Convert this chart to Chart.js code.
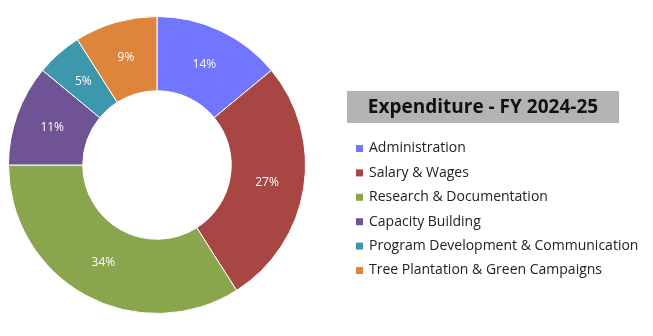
<!DOCTYPE html>
<html>
<head>
<meta charset="utf-8">
<script src="https://cdn.jsdelivr.net/npm/chart.js@4.4.1/dist/chart.umd.min.js"></script>
<style>
  html, body { margin: 0; padding: 0; background: #fff; }
  #wrap { width: 653px; height: 336px; }
</style>
</head>
<body>
<div id="wrap"><canvas id="expChart" width="653" height="336"></canvas></div>
<script>
const categories = [
  "Administration",
  "Salary & Wages",
  "Research & Documentation",
  "Capacity Building",
  "Program Development & Communication",
  "Tree Plantation & Green Campaigns"
];
const shares = [14, 27, 34, 11, 5, 9];
const colours = ["#7275fd", "#a84643", "#89a54e", "#6f5394", "#3d97ad", "#dc853b"];
const chartTitle = "Expenditure - FY 2024-25";

// percentage text inside each slice
const sliceLabels = {
  id: 'sliceLabels',
  afterDatasetsDraw(chart) {
    const ctx = chart.ctx;
    const meta = chart.getDatasetMeta(0);
    ctx.save();
    ctx.font = '12px "Open Sans", sans-serif';
    ctx.fillStyle = '#ffffff';
    ctx.textAlign = 'center';
    ctx.textBaseline = 'middle';
    meta.data.forEach((arc, i) => {
      const p = arc.getProps(['x', 'y', 'startAngle', 'endAngle', 'innerRadius', 'outerRadius']);
      const a = (p.startAngle + p.endAngle) / 2;
      const r = (p.innerRadius + p.outerRadius) / 2;
      ctx.fillText(shares[i] + '%', p.x + Math.cos(a) * r, p.y + Math.sin(a) * r);
    });
    ctx.restore();
  }
};

// title box + legend on the right
const sideLegend = {
  id: 'sideLegend',
  afterDraw(chart) {
    const ctx = chart.ctx;
    ctx.save();
    ctx.fillStyle = '#b3b3b3';
    ctx.fillRect(347, 91, 272, 32);
    ctx.fillStyle = '#111';
    ctx.font = 'bold 19px "Open Sans", sans-serif';
    ctx.textAlign = 'center';
    ctx.textBaseline = 'middle';
    ctx.fillText(chartTitle, 483, 108);

    ctx.font = '14px "Open Sans", sans-serif';
    ctx.textAlign = 'left';
    chart.data.labels.forEach((lab, i) => {
      const y = 148.5 + i * 24.4;
      ctx.fillStyle = colours[i];
      ctx.fillRect(356, y - 3.5, 7, 7);
      ctx.fillStyle = '#222';
      ctx.fillText(lab, 369, y);
    });
    ctx.restore();
  }
};

new Chart(document.getElementById('expChart').getContext('2d'), {
  type: 'doughnut',
  data: {
    labels: categories,
    datasets: [{
      data: shares,
      backgroundColor: colours,
      borderColor: '#ffffff',
      borderWidth: 1,
      hoverOffset: 0
    }]
  },
  options: {
    responsive: false,
    animation: false,
    cutout: '50%',
    layout: { padding: { left: 8, top: 16, right: 347, bottom: 22 } },
    plugins: {
      legend: { display: false },
      tooltip: { enabled: false }
    }
  },
  plugins: [sliceLabels, sideLegend]
});
</script>
</body>
</html>
